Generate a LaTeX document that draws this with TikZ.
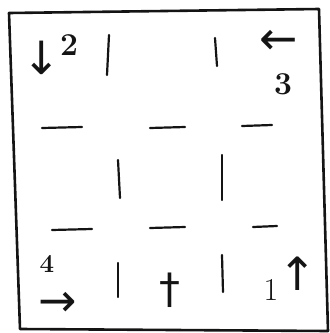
\documentclass[tikz,border=0pt]{standalone}
\usepackage{fontspec}
\usepackage{tikz}
\newfontfamily\arrowfont{DejaVu Sans}
\definecolor{ink}{HTML}{141414}
\tikzset{
  frame/.style={
    draw=ink,
    line width=2.6bp,
    line join=round
  },
  wall/.style={
    draw=ink,
    line width=2.2bp,
    line cap=round
  },
  glyph/.style={
    text=ink,
    inner sep=0pt,
    font=\fontsize{46}{46}\arrowfont
  },
  digit/.style={
    text=ink,
    inner sep=0pt,
    font=\fontsize{32}{32}\selectfont\bfseries
  }
}

\begin{document}
\begin{tikzpicture}[x=1bp, y=-1bp]
  \useasboundingbox (0,0) rectangle (330,333);
  % outer box
  \draw[frame] (9,13) -- (319,9) -- (328,331) -- (20,329) -- cycle;
  % broken grid lines
  \draw[wall] (109,35) -- (107,75);
  \draw[wall] (215,38) -- (217,66);
  \draw[wall] (118,160) -- (120,198);
  \draw[wall] (222,155) -- (222,200);
  \draw[wall] (118,263) -- (118,297);
  \draw[wall] (222,255) -- (223,292);
  \draw[wall] (42,128) -- (82,127);
  \draw[wall] (150,128) -- (185,127);
  \draw[wall] (242,126) -- (272,125);
  \draw[wall] (52,230) -- (92,229);
  \draw[wall] (150,228) -- (185,227);
  \draw[wall] (253,227) -- (277,226);
  % corner marks
  \node[glyph] (down) at (42,58) {↓};
  \node[digit] (two) at (69,45) {2};
  \node[glyph] (left) at (279,42) {←};
  \node[digit] (three) at (283,84) {3};
  \node[digit, font=\fontsize{26}{26}\selectfont\bfseries] (four) at (47,264) {4};
  \node[glyph] (right) at (58,304) {→};
  \node[glyph, font=\fontsize{42}{42}\arrowfont] (dagger) at (170,290) {†};
  \node[digit, font=\fontsize{32}{32}\selectfont] (one) at (271,290) {1};
  \node[glyph] (up) at (298,274) {↑};
\end{tikzpicture}
\end{document}
